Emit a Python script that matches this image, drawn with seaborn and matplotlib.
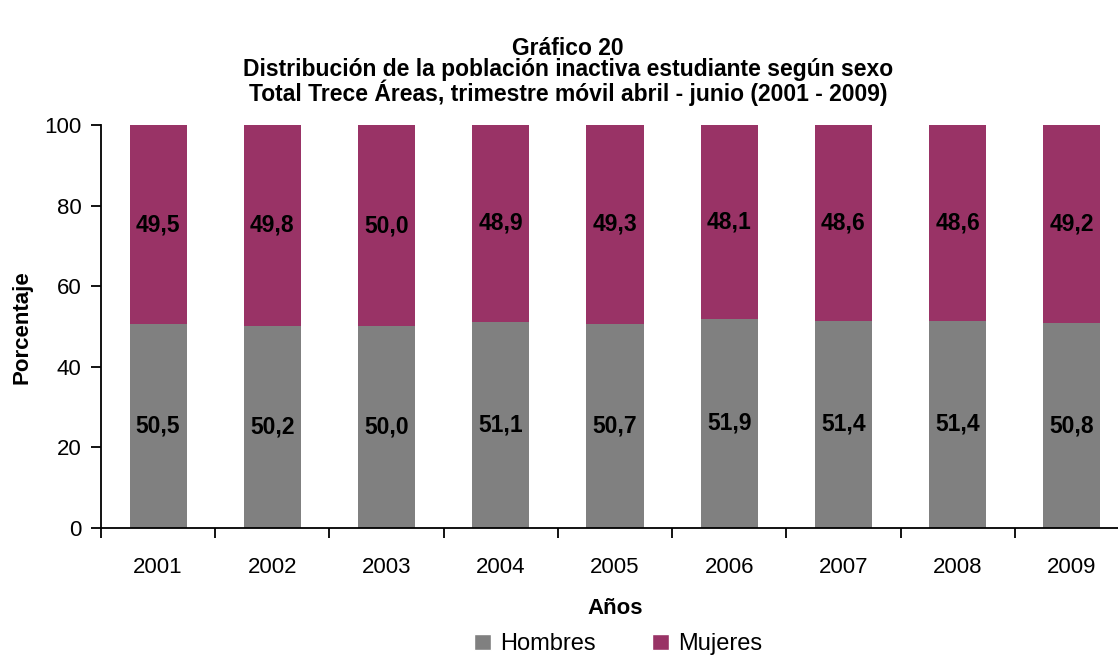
import matplotlib
matplotlib.use("Agg")
from matplotlib import pyplot as plt
from matplotlib.patches import Patch
import seaborn as sns
import pandas as pd
import numpy as np

years = ["2001", "2002", "2003", "2004", "2005", "2006", "2007", "2008", "2009"]
hombres = [50.5, 50.2, 50.0, 51.1, 50.7, 51.9, 51.4, 51.4, 50.8]
mujeres = [49.5, 49.8, 50.0, 48.9, 49.3, 48.1, 48.6, 48.6, 49.2]

gris = "#808080"
magenta = "#993366"

sns.set_style("white")
plt.rcParams['font.family'] = ['Liberation Sans', 'DejaVu Sans']
plt.rcParams['text.color'] = 'black'
plt.rcParams['axes.labelcolor'] = 'black'
plt.rcParams['xtick.color'] = 'black'
plt.rcParams['ytick.color'] = 'black'

df = pd.DataFrame({"Año": years, "Hombres": hombres, "Mujeres": mujeres})
df["Total"] = df["Hombres"] + df["Mujeres"]

fig = plt.figure(figsize=(11.18, 6.58), dpi=100)
ax = fig.add_axes([0.0903, 0.1976, 0.9195, 0.6125])

# stacked: full bar in magenta, hombres on top in gray
sns.barplot(data=df, x="Año", y="Total", color=magenta, width=0.5, saturation=1,
            linewidth=0, ax=ax)
sns.barplot(data=df, x="Año", y="Hombres", color=gris, width=0.5, saturation=1,
            linewidth=0, ax=ax)

for i in range(len(years)):
    ax.text(i, hombres[i] / 2, f"{hombres[i]:.1f}".replace(".", ","),
            ha="center", va="center", fontsize=16.5, fontweight="bold")
    ax.text(i, hombres[i] + mujeres[i] / 2, f"{mujeres[i]:.1f}".replace(".", ","),
            ha="center", va="center", fontsize=16.5, fontweight="bold")

ax.set_xlim(-0.5, len(years) - 0.5)
ax.set_ylim(0, 100)
ax.set_yticks(np.arange(0, 101, 20))
ax.tick_params(axis="y", labelsize=16, length=7, width=1.3, direction="out", left=True, pad=7)

# major ticks between categories, labels on minor ticks at centers
ax.set_xticks(np.arange(-0.5, len(years), 1.0))
ax.set_xticklabels([])
ax.set_xticks(np.arange(len(years)), minor=True)
ax.set_xticklabels(years, minor=True)
ax.tick_params(axis="x", which="major", length=7, width=1.3, direction="out", bottom=True)
ax.tick_params(axis="x", which="minor", length=0, labelsize=16, pad=21)

for s in ["top", "right"]:
    ax.spines[s].set_visible(False)
for s in ["left", "bottom"]:
    ax.spines[s].set_color("black")
    ax.spines[s].set_linewidth(1.3)

ax.set_xlabel("Años", fontsize=16, fontweight="bold", labelpad=14)
ax.set_ylabel("")
fig.text(22 / 1118, 0.5035, "Porcentaje", rotation=90, ha="center", va="center",
         fontsize=16, fontweight="bold")

fig.text(0.508, 0.944, "Gráfico 20\nDistribución de la población inactiva estudiante según sexo\n"
         "Total Trece Áreas, trimestre móvil abril - junio (2001 - 2009)",
         ha="center", va="top", fontsize=16.5, fontweight="bold", linespacing=0.92)

handles = [Patch(facecolor=gris, label="Hombres"), Patch(facecolor=magenta, label="Mujeres")]
fig.legend(handles=handles, loc="lower center", bbox_to_anchor=(0.553, -0.028), ncol=2,
           frameon=False, fontsize=17, handlelength=0.7, handleheight=0.7,
           handletextpad=0.4, columnspacing=2.4)

fig.savefig("out.png", dpi=100)
